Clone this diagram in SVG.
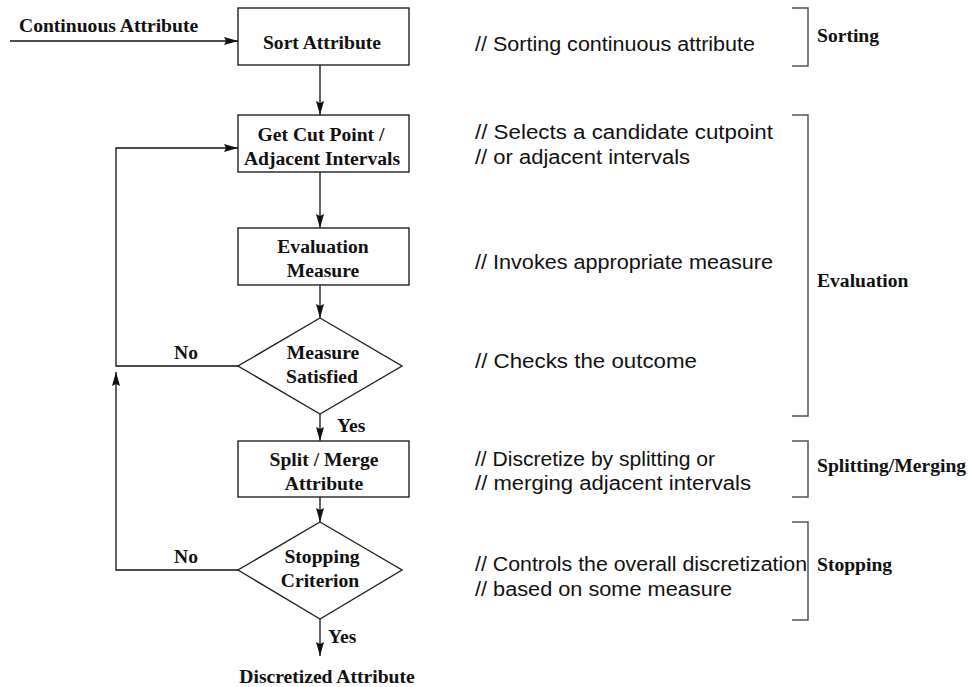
<svg xmlns="http://www.w3.org/2000/svg" width="968" height="687" viewBox="0 0 968 687">
<style>
.box{fill:#fff;stroke:#222;stroke-width:1.4}
.lbl{font-family:"Liberation Serif","Times New Roman",serif;font-weight:bold;font-size:19.6px;fill:#111}
.c{text-anchor:middle}
.cm{font-family:"Liberation Sans",Arial,sans-serif;font-size:20px;fill:#111}
.ln{fill:none;stroke:#111;stroke-width:1.3}
.br{fill:none;stroke:#555;stroke-width:1.5}
</style>
<defs>
<marker id="ah" viewBox="0 0 14 8" refX="14" refY="4" markerWidth="14" markerHeight="8" markerUnits="userSpaceOnUse" orient="auto">
<path d="M0,0 L14,4 L0,8 L2,4 z" fill="#111"/>
</marker>
</defs>
<rect width="968" height="687" fill="#fff"/>

<g id="connectors">
<line class="ln" x1="10" y1="41" x2="238" y2="41" marker-end="url(#ah)"/>
<line class="ln" x1="320" y1="65" x2="320" y2="115" marker-end="url(#ah)"/>
<line class="ln" x1="320" y1="172" x2="320" y2="228" marker-end="url(#ah)"/>
<line class="ln" x1="320" y1="285" x2="320" y2="318" marker-end="url(#ah)"/>
<line class="ln" x1="320" y1="414" x2="320" y2="441" marker-end="url(#ah)"/>
<line class="ln" x1="320" y1="497" x2="320" y2="522" marker-end="url(#ah)"/>
<line class="ln" x1="320" y1="619" x2="320" y2="656" marker-end="url(#ah)"/>
<polyline class="ln" points="238,366 116,366 116,148 238,148" marker-end="url(#ah)"/>
<polyline class="ln" points="238,570 116,570 116,372" marker-end="url(#ah)"/>
<text class="lbl" x="174" y="359">No</text>
<text class="lbl" x="174" y="563">No</text>
<text class="lbl" x="337" y="432">Yes</text>
<text class="lbl" x="328" y="643">Yes</text>
<text class="lbl" x="19" y="32">Continuous Attribute</text>
</g>

<g id="sort">
<rect class="box" x="238" y="8" width="171" height="57"/>
<text class="lbl c" x="322" y="49">Sort Attribute</text>
</g>
<g id="getcut">
<rect class="box" x="238" y="115" width="171" height="57"/>
<text class="lbl c" x="321" y="141">Get Cut Point /</text>
<text class="lbl c" x="322" y="165">Adjacent Intervals</text>
</g>
<g id="eval">
<rect class="box" x="238" y="228" width="171" height="57"/>
<text class="lbl c" x="323" y="253">Evaluation</text>
<text class="lbl c" x="323" y="277">Measure</text>
</g>
<g id="measure">
<polygon class="box" points="320,318 402,366 320,414 238,366"/>
<text class="lbl c" x="323" y="359">Measure</text>
<text class="lbl c" x="322" y="383">Satisfied</text>
</g>
<g id="split">
<rect class="box" x="238" y="441" width="171" height="56"/>
<text class="lbl c" x="324" y="466">Split / Merge</text>
<text class="lbl c" x="324" y="490">Attribute</text>
</g>
<g id="stopping">
<polygon class="box" points="320,522 402,570 320,619 238,570"/>
<text class="lbl c" x="322" y="563">Stopping</text>
<text class="lbl c" x="320" y="587">Criterion</text>
</g>
<g id="output">
<text class="lbl c" x="327" y="683">Discretized Attribute</text>
</g>

<g id="comments">
<text class="cm" x="475" y="51" textLength="280" lengthAdjust="spacingAndGlyphs">// Sorting continuous attribute</text>
<text class="cm" x="475" y="139" textLength="298" lengthAdjust="spacingAndGlyphs">// Selects a candidate cutpoint</text>
<text class="cm" x="475" y="164" textLength="215" lengthAdjust="spacingAndGlyphs">// or adjacent intervals</text>
<text class="cm" x="475" y="269" textLength="298" lengthAdjust="spacingAndGlyphs">// Invokes appropriate measure</text>
<text class="cm" x="475" y="368" textLength="222" lengthAdjust="spacingAndGlyphs">// Checks the outcome</text>
<text class="cm" x="475" y="466" textLength="240" lengthAdjust="spacingAndGlyphs">// Discretize by splitting or</text>
<text class="cm" x="475" y="490" textLength="276" lengthAdjust="spacingAndGlyphs">// merging adjacent intervals</text>
<text class="cm" x="475" y="571" textLength="332" lengthAdjust="spacingAndGlyphs">// Controls the overall discretization</text>
<text class="cm" x="475" y="596" textLength="257" lengthAdjust="spacingAndGlyphs">// based on some measure</text>
</g>

<g id="brackets">
<polyline class="br" points="792,8 808,8 808,66 792,66"/>
<polyline class="br" points="792,115 808,115 808,416 792,416"/>
<polyline class="br" points="792,441 808,441 808,497 792,497"/>
<polyline class="br" points="792,522 808,522 808,620 792,620"/>
<text class="lbl" x="817" y="42">Sorting</text>
<text class="lbl" x="817" y="287">Evaluation</text>
<text class="lbl" x="817" y="472">Splitting/Merging</text>
<text class="lbl" x="817" y="571">Stopping</text>
</g>
</svg>
